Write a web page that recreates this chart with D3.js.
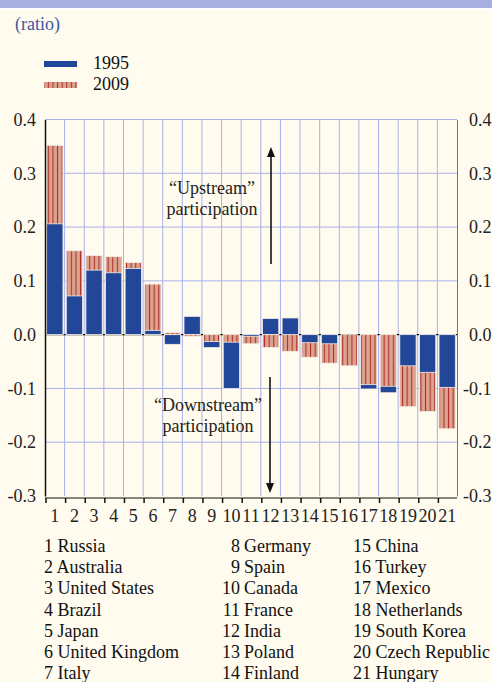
<!DOCTYPE html>
<meta charset="utf-8">
<script src="https://d3js.org/d3.v7.min.js"></script>
<style>
  body { margin: 0; background: #fffbee; }
  text { font-family: "Liberation Serif", "Times New Roman", serif; }
</style>
<div id="chart"></div>
<script>
// data
var codes = d3.range(1, 22);
var countries = ["Russia", "Australia", "United States", "Brazil", "Japan", "United Kingdom", "Italy",
  "Germany", "Spain", "Canada", "France", "India", "Poland", "Finland",
  "China", "Turkey", "Mexico", "Netherlands", "South Korea", "Czech Republic", "Hungary"];
var v1995 = [0.206, 0.072, 0.120, 0.115, 0.123, 0.008, -0.018, 0.034, -0.024, -0.100, -0.003,
  0.030, 0.031, -0.015, -0.017, 0.0, -0.101, -0.108, -0.058, -0.070, -0.098];
var v2009 = [0.352, 0.156, 0.147, 0.145, 0.134, 0.094, 0.004, -0.003, -0.013, -0.014, -0.017,
  -0.024, -0.031, -0.042, -0.053, -0.058, -0.093, -0.096, -0.134, -0.143, -0.175];
var yTicks = [0.4, 0.3, 0.2, 0.1, 0.0, -0.1, -0.2, -0.3];

var W = 492, H = 682, FS = 18;
var fmt = function(d) { return d3.format(".1f")(d).replace("\u2212", "-"); };
var svg = d3.select("#chart").append("svg").attr("width", W).attr("height", H);

svg.append("rect").attr("width", W).attr("height", H).attr("fill", "#fffbee");
svg.append("rect").attr("width", W).attr("height", 8).attr("fill", "#a9b0e1");
svg.append("rect").attr("y", 8).attr("width", W).attr("height", 2).attr("fill", "#ffffff");

var defs = svg.append("defs");
var pat = defs.append("pattern").attr("id", "stripes")
  .attr("patternUnits", "userSpaceOnUse").attr("width", 4.6).attr("height", 10);
pat.append("rect").attr("width", 4.6).attr("height", 10).attr("fill", "#dca490");
pat.append("rect").attr("x", 1.8).attr("width", 1.1).attr("height", 10).attr("fill", "#b0322a");

var x = d3.scaleBand().domain(codes).range([45, 457]).paddingInner(0.17).paddingOuter(0.085);
var y = d3.scaleLinear().domain([-0.3, 0.4]).range([496, 119.5]);
var step = x.step();
var x0 = 45;

// grid
svg.append("g").selectAll("line").data(yTicks.filter(function(d) { return d != 0 && d != -0.3; }))
  .enter().append("line")
  .attr("x1", x0).attr("x2", 457).attr("y1", function(d) { return y(d); }).attr("y2", function(d) { return y(d); })
  .attr("stroke", "#a9b0ea").attr("stroke-width", 1);
svg.append("g").selectAll("line").data(d3.range(1, 21))
  .enter().append("line")
  .attr("x1", function(d) { return x0 + d * step; }).attr("x2", function(d) { return x0 + d * step; })
  .attr("y1", y(0.4)).attr("y2", y(-0.3))
  .attr("stroke", "#a9b0ea").attr("stroke-width", 1);

// zero line
svg.append("line").attr("x1", x0).attr("x2", 457).attr("y1", y(0)).attr("y2", y(0))
  .attr("stroke", "#111").attr("stroke-width", 1.2);

// bars: larger magnitude drawn behind
var bars = [];
codes.forEach(function(c, i) {
  var pair = [{c: c, v: v2009[i], s: "2009"}, {c: c, v: v1995[i], s: "1995"}];
  pair.sort(function(a, b) { return Math.abs(b.v) - Math.abs(a.v); });
  bars = bars.concat(pair);
});
svg.append("g").selectAll("rect").data(bars.filter(function(d) { return d.v != 0; }))
  .enter().append("rect")
  .attr("x", function(d) { return x(d.c); })
  .attr("width", x.bandwidth())
  .attr("y", function(d) { return Math.min(y(d.v), y(0)); })
  .attr("height", function(d) { return Math.abs(y(d.v) - y(0)); })
  .attr("fill", function(d) { return d.s == "1995" ? "#224799" : "url(#stripes)"; })
  .attr("stroke", "#f4eee6").attr("stroke-width", 0.8);

// axes
var left = d3.axisLeft(y).tickValues(yTicks).tickFormat(fmt).tickSize(0).tickPadding(9);
var gl = svg.append("g").attr("transform", "translate(" + x0 + ",0)").call(left);
gl.select(".domain").attr("stroke", "#111").attr("stroke-width", 1.5);
gl.selectAll("text").attr("font-size", FS).attr("fill", "#222").attr("font-family", "Liberation Serif");

var right = d3.axisRight(y).tickValues(yTicks).tickFormat(fmt).tickSize(0).tickPadding(12);
var gr = svg.append("g").attr("transform", "translate(457,0)").call(right);
gr.select(".domain").attr("stroke", "#777").attr("stroke-width", 1);
gr.selectAll("text").attr("font-size", FS).attr("fill", "#222").attr("font-family", "Liberation Serif")
  .attr("x", function(d) { return d < 0 ? 6 : 12; });

var bottom = d3.axisBottom(x).tickSize(0).tickPadding(11);
var gb = svg.append("g").attr("transform", "translate(0," + (y(-0.3) + 2) + ")").call(bottom);
gb.select(".domain").remove();
gb.selectAll("text").attr("font-size", FS).attr("fill", "#222").attr("font-family", "Liberation Serif");
svg.append("line").attr("x1", x0).attr("x2", 457).attr("y1", y(-0.3) + 2).attr("y2", y(-0.3) + 2)
  .attr("stroke", "#111").attr("stroke-width", 1.2);
svg.append("g").selectAll("line").data(d3.range(0, 21))
  .enter().append("line")
  .attr("x1", function(d) { return x0 + d * step + 1; }).attr("x2", function(d) { return x0 + d * step + 1; })
  .attr("y1", y(-0.3) + 2).attr("y2", y(-0.3) + 7)
  .attr("stroke", "#111").attr("stroke-width", 1.5);

// annotations
function arrow(xp, y1, y2) {
  var dir = y2 < y1 ? 1 : -1;
  svg.append("line").attr("x1", xp).attr("x2", xp).attr("y1", y1).attr("y2", y2 + dir * 8)
    .attr("stroke", "#111").attr("stroke-width", 1.6);
  svg.append("path")
    .attr("d", "M" + (xp - 4) + "," + (y2 + dir * 10) + " L" + xp + "," + y2 + " L" + (xp + 4) + "," + (y2 + dir * 10) + " Z")
    .attr("fill", "#111");
}
arrow(271, 264, 147);
arrow(270, 377, 493);

var ann = svg.append("g").attr("font-size", FS).attr("fill", "#222").attr("text-anchor", "middle");
ann.append("text").attr("x", 212).attr("y", 194).text("\u201cUpstream\u201d");
ann.append("text").attr("x", 212).attr("y", 215).text("participation");
ann.append("text").attr("x", 208).attr("y", 411).text("\u201cDownstream\u201d");
ann.append("text").attr("x", 208).attr("y", 432).text("participation");

// header and legend
svg.append("text").attr("x", 15).attr("y", 30).attr("font-size", FS).attr("fill", "#3b5aa2").text("(ratio)");
svg.append("rect").attr("x", 44).attr("y", 61).attr("width", 33).attr("height", 6).attr("fill", "#224799");
svg.append("rect").attr("x", 44).attr("y", 82).attr("width", 33).attr("height", 6).attr("fill", "url(#stripes)");
svg.append("text").attr("x", 93).attr("y", 69).attr("font-size", FS).attr("fill", "#111").text("1995");
svg.append("text").attr("x", 93).attr("y", 90).attr("font-size", FS).attr("fill", "#111").text("2009");

// country key
var key = svg.append("g").attr("font-size", FS).attr("fill", "#111");
countries.forEach(function(name, i) {
  var col = Math.floor(i / 7), row = i % 7;
  var yy = 552 + row * 21.2;
  if (col == 0) {
    key.append("text").attr("x", 44).attr("y", yy).text((i + 1) + " " + name);
  } else if (col == 1) {
    key.append("text").attr("x", 240).attr("y", yy).attr("text-anchor", "end").text(i + 1);
    key.append("text").attr("x", 244).attr("y", yy).text(name);
  } else {
    key.append("text").attr("x", 353).attr("y", yy).text((i + 1) + " " + name);
  }
});
</script>
